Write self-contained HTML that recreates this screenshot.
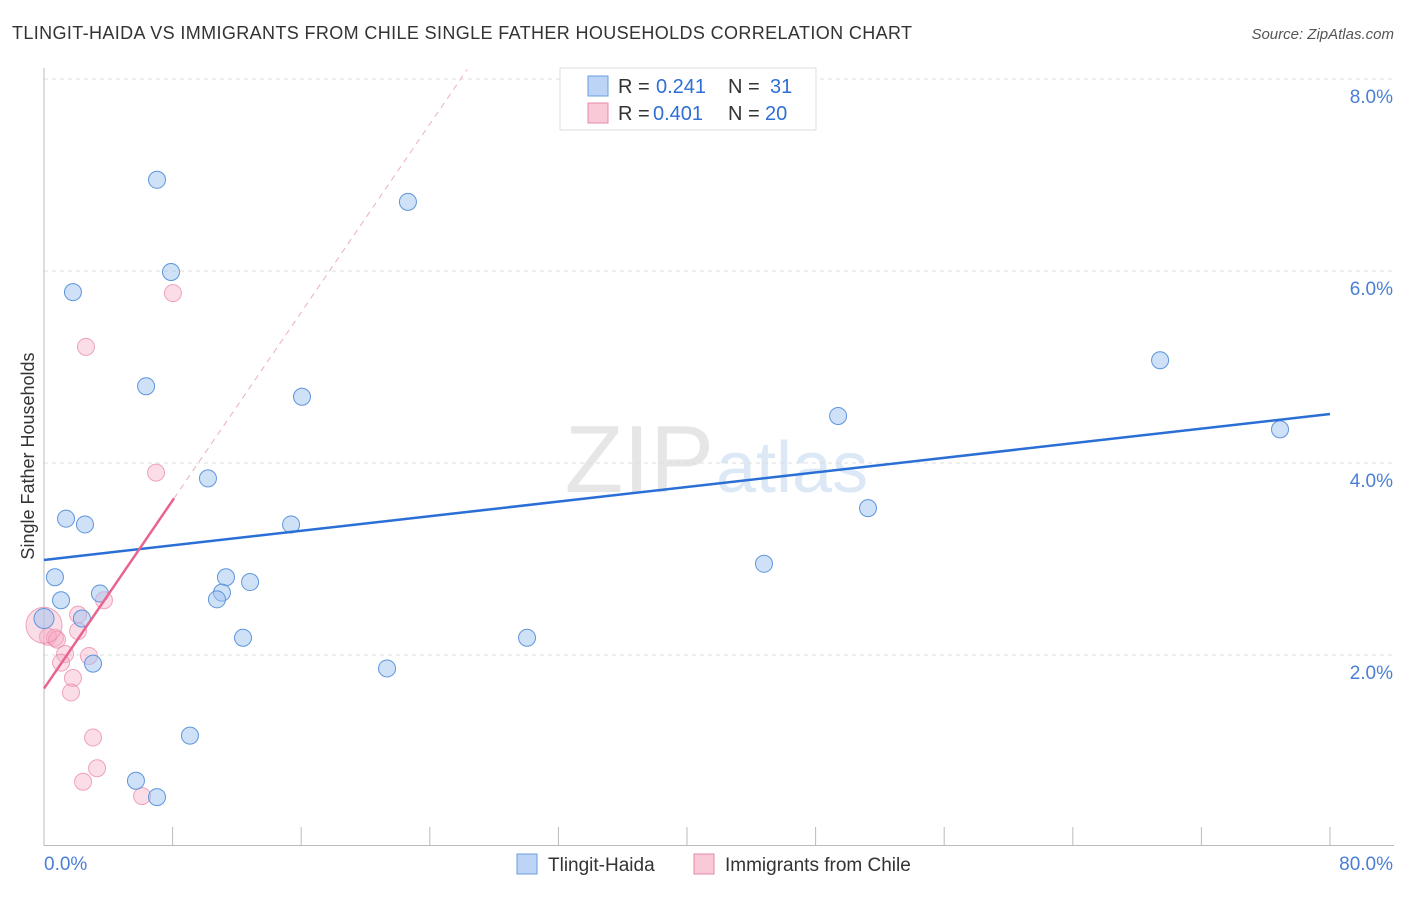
<!DOCTYPE html>
<html><head><meta charset="utf-8"><style>
body{margin:0;background:#fff;font-family:"Liberation Sans",sans-serif;}
svg text{font-family:"Liberation Sans",sans-serif;}
</style></head><body>
<svg id="c" width="1406" height="892">
<text x="12" y="39" font-size="18" fill="#333" textLength="900">TLINGIT-HAIDA VS IMMIGRANTS FROM CHILE SINGLE FATHER HOUSEHOLDS CORRELATION CHART</text>
<text x="1394" y="39" font-size="15" fill="#555" text-anchor="end" font-style="italic">Source: ZipAtlas.com</text>
<text x="0" y="0" transform="translate(34,456) rotate(-90)" font-size="18" fill="#333" text-anchor="middle">Single Father Households</text>
<text x="714" y="492" font-size="96" fill="#e6e6e6" text-anchor="end" font-family="Liberation Serif">ZIP</text>
<text x="716" y="492" font-size="72" fill="#dce8f5">atlas</text>
<g id="grid"></g><g id="marks"></g>
<g>
<rect x="560" y="68" width="256" height="62" fill="#fff" stroke="#ddd"/>
<rect x="588" y="76" width="20" height="20" fill="#bcd4f5" stroke="#6a9ee0"/>
<text x="618" y="93" font-size="20" fill="#333">R =</text>
<text x="656" y="93" font-size="20" fill="#2f6fd6">0.241</text>
<text x="728" y="93" font-size="20" fill="#333">N =</text>
<text x="770" y="93" font-size="20" fill="#2f6fd6">31</text>
<rect x="588" y="103" width="20" height="20" fill="#f9c9d8" stroke="#e88aa8"/>
<text x="618" y="120" font-size="20" fill="#333">R =</text>
<text x="653" y="120" font-size="20" fill="#2f6fd6">0.401</text>
<text x="728" y="120" font-size="20" fill="#333">N =</text>
<text x="765" y="120" font-size="20" fill="#2f6fd6">20</text>
</g>
<g>
<rect x="517" y="854" width="20" height="20" fill="#bcd4f5" stroke="#6a9ee0"/>
<text x="548" y="871" font-size="19" fill="#333">Tlingit-Haida</text>
<rect x="694" y="854" width="20" height="20" fill="#f9c9d8" stroke="#e88aa8"/>
<text x="725" y="871" font-size="19" fill="#333">Immigrants from Chile</text>
</g>
</svg>
<script>
const blueX=[7.03,22.64,7.90,1.80,69.43,6.35,16.05,49.40,76.89,10.20,51.26,1.37,2.55,15.37,44.79,0.68,11.32,12.82,3.48,1.06,11.07,10.76,2.36,0,12.38,30.05,3.05,21.34,9.08,5.72,7.03];
const blueY=[6.95,6.72,5.99,5.78,5.07,4.80,4.69,4.49,4.35,3.84,3.53,3.42,3.36,3.36,2.95,2.81,2.81,2.76,2.64,2.57,2.65,2.58,2.38,2.38,2.18,2.18,1.91,1.86,1.16,0.69,0.52];
const pinkX=[8.02,2.61,6.97,3.73,2.12,2.12,0.25,0.68,0.81,1.31,2.80,1.06,1.80,1.68,3.05,3.30,2.43,6.10,0];
const pinkY=[5.77,5.21,3.90,2.57,2.42,2.25,2.19,2.18,2.16,2.01,1.99,1.92,1.76,1.61,1.14,0.82,0.68,0.53,2.31];
const yTicks=[2,4,6,8];
const xTickLabels=["0.0%","80.0%"];
const blueFit=[2.99,4.51];
const pinkFit=[1.65,0.245];
const sx=v=>44+v/80*1286, sy=v=>847-v*96;
const NS="http://www.w3.org/2000/svg";
function mk(t,a,p){const e=document.createElementNS(NS,t);for(const k in a)e.setAttribute(k,a[k]);p.appendChild(e);return e;}
const g=document.getElementById('grid'),m=document.getElementById('marks');
yTicks.forEach(t=>{const l=mk('line',{x1:44,x2:1394,y1:sy(t),y2:sy(t),stroke:'#ddd','stroke-dasharray':'4,4'},g);


const tx=mk('text',{x:1393,y:sy(t)+24,'font-size':19,fill:'#4a7fd6','text-anchor':'end'},g);tx.textContent=t.toFixed(1)+'%';

});
mk('line',{x1:44,x2:44,y1:68,y2:846,stroke:'#bbb'},g);
mk('line',{x1:44,x2:1394,y1:845.5,y2:845.5,stroke:'#bbb'},g);
for(let i=1;i<=10;i++){const x=sx(i*8);mk('line',{x1:x,x2:x,y1:827,y2:846,stroke:'#bbb'},g);}
xTickLabels.forEach((s,i)=>{const tx=mk('text',{x:i?1393:44,y:870,'font-size':19,fill:'#4a7fd6','text-anchor':i?'end':'start'},g);tx.textContent=s;

});
pinkX.forEach((x,i)=>{const c=mk('circle',{cx:sx(x),cy:sy(pinkY[i]),r:i==pinkX.length-1?18:8.5,fill:'rgba(246,170,195,0.4)',stroke:'rgba(232,130,165,0.7)'},m);

});
blueX.forEach((x,i)=>{const c=mk('circle',{cx:sx(x),cy:sy(blueY[i]),r:i==23?10:8.5,fill:'rgba(160,196,240,0.5)',stroke:'#5d95dc'},m);

});
let l=mk('line',{x1:sx(0),y1:sy(blueFit[0]),x2:sx(80),y2:sy(blueFit[1]),stroke:'#2a6fd6','stroke-width':2.5},m);


l=mk('line',{x1:sx(0),y1:sy(pinkFit[0]),x2:sx(8.09),y2:sy(pinkFit[0]+pinkFit[1]*8.09),stroke:'#e8648f','stroke-width':2.5},m);


const xe=(8.1-pinkFit[0])/pinkFit[1];
l=mk('line',{x1:sx(8.09),y1:sy(pinkFit[0]+pinkFit[1]*8.09),x2:sx(xe),y2:sy(8.1),stroke:'#eab0c2','stroke-width':1,'stroke-dasharray':'6,5'},m);


</script>
</body></html>
